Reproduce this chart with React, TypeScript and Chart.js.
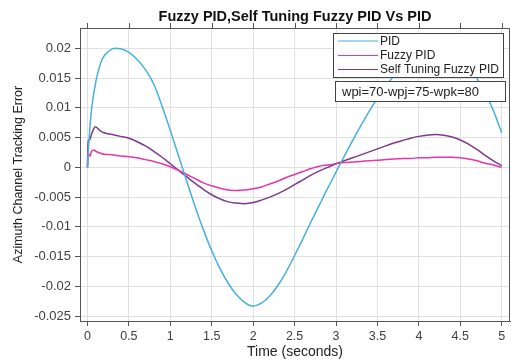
import React, { useEffect, useRef } from "react";
import { Chart, registerables } from "chart.js";

Chart.register(...registerables);

const chartTitle = "Fuzzy PID,Self Tuning Fuzzy PID Vs PID";
const xAxisTitle = "Time (seconds)";
const yAxisTitle = "Azimuth Channel Tracking Error";
const seriesNames = ["PID", "Fuzzy PID", "Self Tuning Fuzzy PID"];
const noteText = "wpi=70-wpj=75-wpk=80";

const xTicks = [0, 0.5, 1, 1.5, 2, 2.5, 3, 3.5, 4, 4.5, 5];
const xTickLabels = ["0", "0.5", "1", "1.5", "2", "2.5", "3", "3.5", "4", "4.5", "5"];
const yTicks = [0.02, 0.015, 0.01, 0.005, 0, -0.005, -0.01, -0.015, -0.02, -0.025];
const yTickLabels = ["0.02", "0.015", "0.01", "0.005", "0", "-0.005", "-0.01", "-0.015", "-0.02", "-0.025"];

const pidTime = [0, 0.02, 0.05, 0.1, 0.15, 0.2, 0.3, 0.4, 0.5, 0.6, 0.7, 0.8, 0.9, 1.0, 1.1, 1.2, 1.3, 1.4, 1.5, 1.6, 1.7, 1.8, 1.9, 2.0, 2.1, 2.2, 2.3, 2.4, 2.5, 2.6, 2.7, 2.8, 2.9, 3.0, 3.1, 3.2, 3.3, 3.4, 3.5, 3.6, 3.7, 3.8, 3.9, 4.0, 4.1, 4.2, 4.3, 4.4, 4.5, 4.6, 4.7, 4.8, 4.9, 5.0];
const pidError = [0, 0.0048, 0.0098, 0.0143, 0.0171, 0.0187, 0.0199, 0.0199, 0.0193, 0.0181, 0.0164, 0.014, 0.0103, 0.0062, 0.0019, -0.0024, -0.0066, -0.0105, -0.014, -0.017, -0.0195, -0.0214, -0.0227, -0.0233, -0.0228, -0.0216, -0.0198, -0.0175, -0.0148, -0.012, -0.0091, -0.0063, -0.0035, -0.0008, 0.0019, 0.0045, 0.007, 0.0094, 0.0116, 0.0136, 0.0154, 0.017, 0.0183, 0.0193, 0.02, 0.0203, 0.0201, 0.0195, 0.0185, 0.017, 0.015, 0.0125, 0.0095, 0.0058];

const fuzzyTime = [0, 0.01, 0.03, 0.05, 0.08, 0.1, 0.15, 0.2, 0.3, 0.4, 0.5, 0.6, 0.7, 0.8, 0.9, 1.0, 1.1, 1.2, 1.3, 1.4, 1.5, 1.6, 1.7, 1.8, 1.9, 2.0, 2.1, 2.2, 2.3, 2.4, 2.5, 2.6, 2.7, 2.8, 2.9, 3.0, 3.1, 3.2, 3.3, 3.4, 3.5, 3.6, 3.7, 3.8, 3.9, 4.0, 4.1, 4.2, 4.3, 4.4, 4.5, 4.6, 4.7, 4.8, 4.9, 5.0];
const fuzzyError = [0, 0.0023, 0.0019, 0.0027, 0.0029, 0.0027, 0.0024, 0.0022, 0.0021, 0.0019, 0.0018, 0.0016, 0.0013, 0.001, 0.0006, 0.0001, -0.0005, -0.0012, -0.0019, -0.0026, -0.0031, -0.0035, -0.0038, -0.0039, -0.0038, -0.0036, -0.0033, -0.0028, -0.0023, -0.0017, -0.0012, -0.0007, -0.0002, 0.0002, 0.0004, 0.0006, 0.0008, 0.0009, 0.001, 0.0011, 0.0012, 0.0013, 0.0014, 0.0015, 0.0015, 0.0016, 0.0016, 0.0017, 0.0017, 0.0017, 0.0016, 0.0014, 0.0011, 0.0007, 0.0004, 0.0];

const selfTime = [0, 0.01, 0.03, 0.05, 0.08, 0.1, 0.15, 0.2, 0.3, 0.4, 0.5, 0.6, 0.7, 0.8, 0.9, 1.0, 1.1, 1.2, 1.3, 1.4, 1.5, 1.6, 1.7, 1.8, 1.9, 2.0, 2.1, 2.2, 2.3, 2.4, 2.5, 2.6, 2.7, 2.8, 2.9, 3.0, 3.1, 3.2, 3.3, 3.4, 3.5, 3.6, 3.7, 3.8, 3.9, 4.0, 4.1, 4.2, 4.3, 4.4, 4.5, 4.6, 4.7, 4.8, 4.9, 5.0];
const selfError = [0, 0.0045, 0.0047, 0.0056, 0.0066, 0.0068, 0.0062, 0.0058, 0.0055, 0.0052, 0.0049, 0.0043, 0.0036, 0.0027, 0.0017, 0.0006, -0.0005, -0.0016, -0.0027, -0.0037, -0.0046, -0.0053, -0.0058, -0.006, -0.0061, -0.0059, -0.0055, -0.005, -0.0044, -0.0037, -0.0029, -0.0021, -0.0013, -0.0006, 0.0, 0.0006, 0.0011, 0.0016, 0.0021, 0.0026, 0.0031, 0.0036, 0.0041, 0.0045, 0.0049, 0.0052, 0.0054, 0.0055, 0.0054, 0.0051, 0.0046, 0.0039, 0.003, 0.002, 0.0011, 0.0003];

const colors = ["#47b0e0", "#e535ab", "#7e3a8a"];
const FONT = "'Liberation Sans', Arial, sans-serif";

const boxPlugin = {
  id: "boxPlugin",
  afterDraw(chart: any) {
    const { ctx, chartArea } = chart;
    const xs = chart.scales.x;
    ctx.save();
    ctx.strokeStyle = "#555";
    ctx.lineWidth = 1;
    ctx.beginPath();
    const t = Math.round(chartArea.top) + 0.5;
    const r = Math.round(chartArea.right) - 0.5;
    ctx.moveTo(chartArea.left, t);
    ctx.lineTo(r, t);
    ctx.lineTo(r, chartArea.bottom);
    xTicks.forEach((v) => {
      const px = Math.round(xs.getPixelForValue(v)) + 0.5;
      ctx.moveTo(px, chartArea.top);
      ctx.lineTo(px, chartArea.top - 5);
    });
    ctx.stroke();

    // title
    ctx.fillStyle = "#111";
    ctx.font = "bold 14.5px " + FONT;
    ctx.textAlign = "center";
    ctx.textBaseline = "middle";
    ctx.fillText(chartTitle, (chartArea.left + chartArea.right) / 2, 17);

    // legend box
    const lx = 333, ly = 33, lw = 170, lh = 44;
    ctx.fillStyle = "#fff";
    ctx.fillRect(lx, ly, lw, lh);
    ctx.strokeStyle = "#444";
    ctx.strokeRect(lx + 0.5, ly + 0.5, lw, lh);
    const rows = [41, 55.5, 69.5];
    ctx.font = "12px " + FONT;
    ctx.textBaseline = "middle";
    ctx.textAlign = "left";
    seriesNames.forEach((name, i) => {
      ctx.strokeStyle = colors[i];
      ctx.lineWidth = 1.2;
      ctx.beginPath();
      ctx.moveTo(338, rows[i]);
      ctx.lineTo(378, rows[i]);
      ctx.stroke();
      ctx.fillStyle = "#222";
      ctx.fillText(name, 380, rows[i] + 0.5);
    });

    // note box
    const nx = 335, ny = 81, nw = 170, nh = 20;
    ctx.fillStyle = "#fff";
    ctx.fillRect(nx, ny, nw, nh);
    ctx.strokeStyle = "#444";
    ctx.lineWidth = 1;
    ctx.strokeRect(nx + 0.5, ny + 0.5, nw, nh);
    ctx.fillStyle = "#222";
    ctx.font = "13px " + FONT;
    ctx.fillText(noteText, 342, ny + nh / 2 + 1);
    ctx.restore();
  },
};

export default function App() {
  const ref = useRef<HTMLCanvasElement | null>(null);
  useEffect(() => {
    if (!ref.current) return;
    const mk = (ts: number[], vs: number[]) => ts.map((t, i) => ({ x: t, y: vs[i] }));
    const chart = new Chart(ref.current, {
      type: "line",
      data: {
        datasets: [
          { label: seriesNames[0], data: mk(pidTime, pidError), borderColor: colors[0] },
          { label: seriesNames[1], data: mk(fuzzyTime, fuzzyError), borderColor: colors[1] },
          { label: seriesNames[2], data: mk(selfTime, selfError), borderColor: colors[2] },
        ].map((d) => ({ ...d, borderWidth: 1.5, pointRadius: 0, fill: false, tension: 0.4 })),
      },
      options: {
        animation: false,
        responsive: false,
        maintainAspectRatio: false,
        layout: { padding: { top: 28, right: 1, left: 0, bottom: 0 } },
        plugins: {
          legend: { display: false },
          tooltip: { enabled: false },
          title: { display: false },
        },
        scales: {
          x: {
            type: "linear",
            min: -0.09,
            max: 5.1,
            afterBuildTicks: (s: any) => {
              s.ticks = xTicks.map((v) => ({ value: v }));
            },
            afterFit: (s: any) => {
              s.height = 40;
            },
            ticks: {
              autoSkip: false,
              maxRotation: 0,
              padding: 3,
              color: "#404040",
              font: { family: FONT, size: 12.5 },
              callback: (v: any) => {
                const i = xTicks.indexOf(Number(v));
                return i >= 0 ? xTickLabels[i] : "";
              },
            },
            grid: { color: "#e0e0e0", tickColor: "#555", tickLength: 5, drawTicks: true },
            border: { display: true, color: "#555" },
            title: {
              display: true,
              text: xAxisTitle,
              color: "#222",
              font: { family: FONT, size: 14 },
              padding: { top: 0, bottom: 0 },
            },
          },
          y: {
            type: "linear",
            min: -0.0258,
            max: 0.0234,
            afterBuildTicks: (s: any) => {
              s.ticks = yTicks.map((v) => ({ value: v }));
            },
            afterFit: (s: any) => {
              s.width = 80;
            },
            ticks: {
              autoSkip: false,
              padding: 4,
              color: "#404040",
              font: { family: FONT, size: 13 },
              callback: (v: any) => {
                const i = yTicks.findIndex((t) => Math.abs(t - Number(v)) < 1e-9);
                return i >= 0 ? yTickLabels[i] : "";
              },
            },
            grid: { color: "#e0e0e0", tickColor: "#555", tickLength: 5, drawTicks: true },
            border: { display: true, color: "#555" },
            title: {
              display: true,
              text: yAxisTitle,
              color: "#222",
              font: { family: FONT, size: 12.5 },
              padding: { top: 11, bottom: 0 },
            },
          },
        },
      },
      plugins: [boxPlugin],
    } as any);
    return () => chart.destroy();
  }, []);
  return (
    <div style={{ position: "fixed", left: 0, top: 0, width: 511, height: 361, background: "#fff" }}>
      <canvas ref={ref} width={511} height={361} style={{ width: 511, height: 361, display: "block" }} />
    </div>
  );
}
